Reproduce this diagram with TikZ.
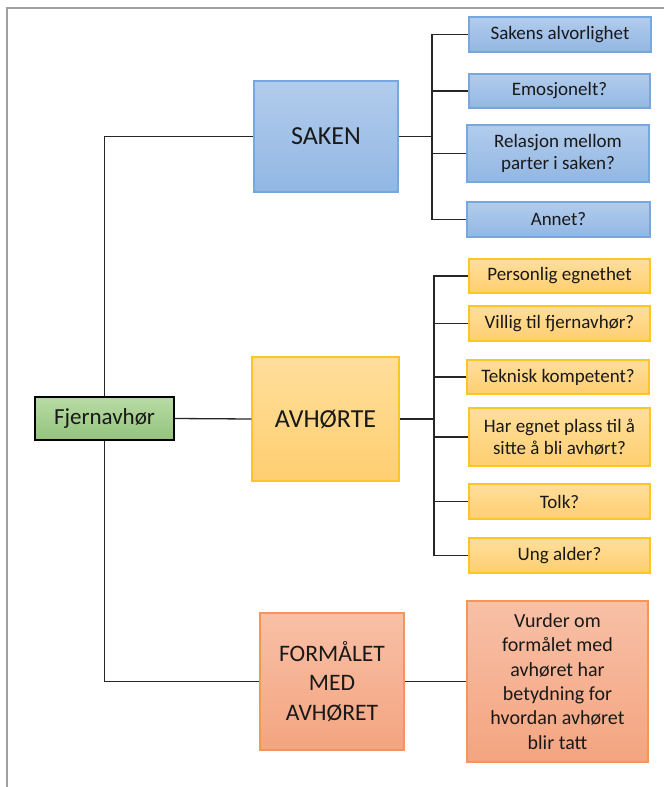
\documentclass[tikz,border=0pt]{standalone}
\usepackage{fontspec}
\setmainfont{Carlito}
\definecolor{frame}{RGB}{160,160,160}
\definecolor{bluetop}{RGB}{178,204,236}
\definecolor{bluebot}{RGB}{146,183,228}
\definecolor{blueline}{RGB}{120,166,222}
\definecolor{gold top}{RGB}{255,222,156}
\definecolor{goldbot}{RGB}{255,207,112}
\definecolor{goldline}{RGB}{255,196,40}
\definecolor{salmtop}{RGB}{248,192,166}
\definecolor{salmbot}{RGB}{244,164,128}
\definecolor{salmline}{RGB}{244,150,90}
\definecolor{greentop}{RGB}{184,219,166}
\definecolor{greenbot}{RGB}{148,195,124}
\definecolor{txt}{RGB}{25,25,25}
\tikzset{
  box/.style={inner sep=0pt, align=center, text=txt, line width=1.2pt},
  bluebox/.style={box, draw=blueline, top color=bluetop, bottom color=bluebot},
  goldbox/.style={box, draw=goldline, top color=gold top, bottom color=goldbot},
  salmbox/.style={box, draw=salmline, top color=salmtop, bottom color=salmbot},
  greenbox/.style={box, draw=black, line width=2pt, top color=greentop, bottom color=greenbot},
  childfont/.style={font=\fontsize{19}{22.7}\selectfont},
  link/.style={draw=black!85, line width=1.3pt},
}
\begin{document}
\begin{tikzpicture}[x=1pt,y=-1pt]
\useasboundingbox (0,0) rectangle (664,787);
\draw[frame, line width=2pt] (7,787) -- (7,8) -- (664,8);

% root
\node[greenbox, minimum width=139pt, minimum height=43pt, font=\fontsize{23}{27}\selectfont] (root) at (104.5,418.5) {Fjernavhør};

% main boxes
\node[bluebox, minimum width=144pt, minimum height=111pt, font=\fontsize{26}{30}\selectfont] (saken) at (326,136.5) {SAKEN};
\node[goldbox, minimum width=147pt, minimum height=124pt, font=\fontsize{26}{30}\selectfont] (avh) at (325.5,419) {AVHØRTE};
\node[salmbox, minimum width=144pt, minimum height=137pt, font=\fontsize{23.6}{29.6}\selectfont] (form) at (332,681.5) {FORMÅLET\\MED\\AVHØRET};
\node[salmbox, minimum width=181pt, minimum height=161pt, font=\fontsize{20}{24.4}\selectfont] (vurder) at (557.5,681.5) {Vurder om\\formålet med\\avhøret har\\betydning for\\hvordan avhøret\\blir tatt};

% SAKEN children
\node[bluebox, childfont, minimum width=182pt, minimum height=35pt] (sa) at (560,34.5) {Sakens alvorlighet};
\node[bluebox, childfont, minimum width=181pt, minimum height=34pt] (em) at (559.5,91) {Emosjonelt?};
\node[bluebox, childfont, minimum width=182pt, minimum height=57pt] (rel) at (558,153.5) {Relasjon mellom\\parter i saken?};
\node[bluebox, childfont, minimum width=183pt, minimum height=35pt] (an) at (558.5,219.5) {Annet?};

% AVHØRTE children
\node[goldbox, childfont, minimum width=181pt, minimum height=34pt] (pe) at (559.5,276) {Personlig egnethet};
\node[goldbox, childfont, minimum width=181pt, minimum height=35pt] (vi) at (559.5,323.5) {Villig til fjernavhør?};
\node[goldbox, childfont, minimum width=182pt, minimum height=34pt] (te) at (558,377) {Teknisk kompetent?};
\node[goldbox, childfont, minimum width=181pt, minimum height=58pt] (ha) at (559.5,437) {Har egnet plass til å\\sitte å bli avhørt?};
\node[goldbox, childfont, minimum width=181pt, minimum height=35pt] (to) at (559.5,501.5) {Tolk?};
\node[goldbox, childfont, minimum width=181pt, minimum height=35pt] (ung) at (559.5,555.5) {Ung alder?};

% junctions
\coordinate (sj) at (432,136.5);
\coordinate (aj) at (434,419);

% trunk
\draw[link] (root.north) |- (saken.west);
\draw[link] (root.south) |- (form.west);
\draw[link] (root.east) -- (avh.west);

% SAKEN bus
\draw[link] (saken.east) -- (sj);
\foreach \c in {sa,em,rel,an} \draw[link] (sj) |- (\c.west);

% AVHØRTE bus
\draw[link] (avh.east) -- (aj);
\foreach \c in {pe,vi,te,ha,to,ung} \draw[link] (aj) |- (\c.west);

% FORMÅLET
\draw[link] (form.east) -- (vurder.west);
\end{tikzpicture}
\end{document}
